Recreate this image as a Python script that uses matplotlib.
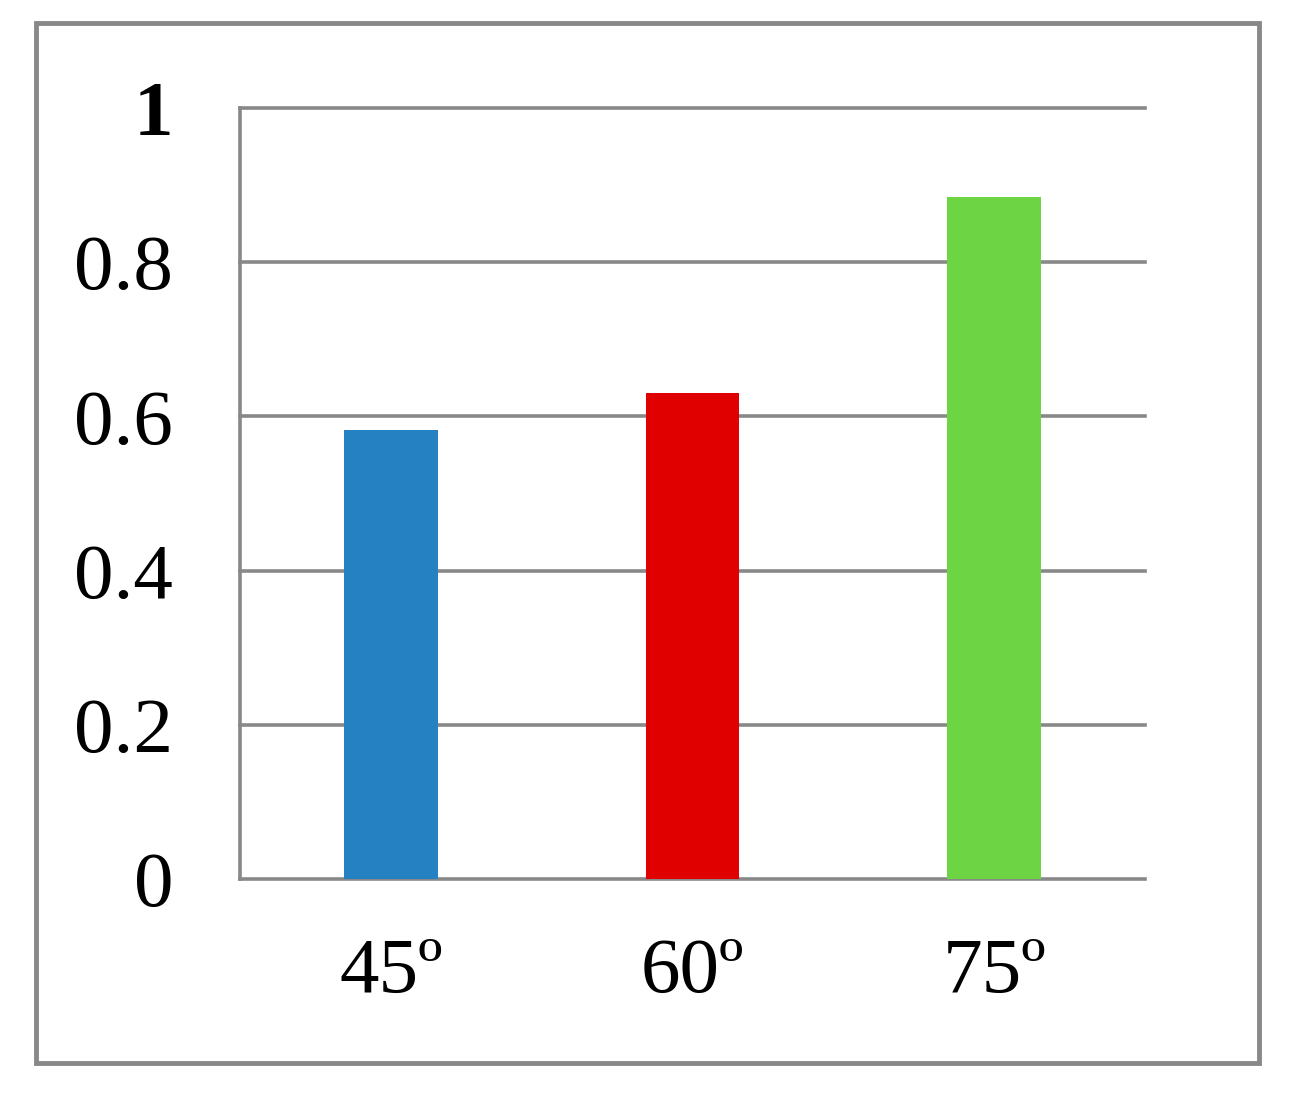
import matplotlib
matplotlib.use("Agg")
import matplotlib.pyplot as plt
from matplotlib.patches import Rectangle

categories = ["45º", "60º", "75º"]
values = [0.582, 0.630, 0.885]
colors = ["#2681C2", "#E00000", "#6DD544"]
yticks = [0, 0.2, 0.4, 0.6, 0.8, 1.0]
ytick_labels = ["0", "0.2", "0.4", "0.6", "0.8", "1"]

plt.rcParams["font.family"] = ["Liberation Serif", "DejaVu Serif"]
grid_color = "#888888"

fig = plt.figure(figsize=(12.97, 10.95), dpi=100)
fig.patches.append(Rectangle((0.0278, 0.0292), 0.9429, 0.9498, transform=fig.transFigure,
                             fill=False, edgecolor=grid_color, linewidth=3.5))

ax = fig.add_axes([0.185, 0.1973, 0.6978, 0.7041])
x = [i + 0.5 for i in range(len(categories))]
ax.bar(x, values, width=0.31, color=colors, zorder=3)
ax.set_xlim(0, 3)
ax.set_ylim(0, 1)
ax.set_yticks(yticks)
ax.set_yticklabels(ytick_labels)
ax.set_xticks(x)
ax.set_xticklabels(categories)
ax.tick_params(axis="both", length=0, labelsize=57)
ax.tick_params(axis="y", pad=48)
ax.tick_params(axis="x", pad=42)
ax.get_yticklabels()[-1].set_fontweight("semibold")
for y in yticks:
    ax.axhline(y, color=grid_color, linewidth=2.6, zorder=1, clip_on=False)
for s in ["top", "right", "bottom"]:
    ax.spines[s].set_visible(False)
ax.spines["left"].set_color(grid_color)
ax.spines["left"].set_linewidth(2.6)

fig.savefig("out.png", dpi=100)
